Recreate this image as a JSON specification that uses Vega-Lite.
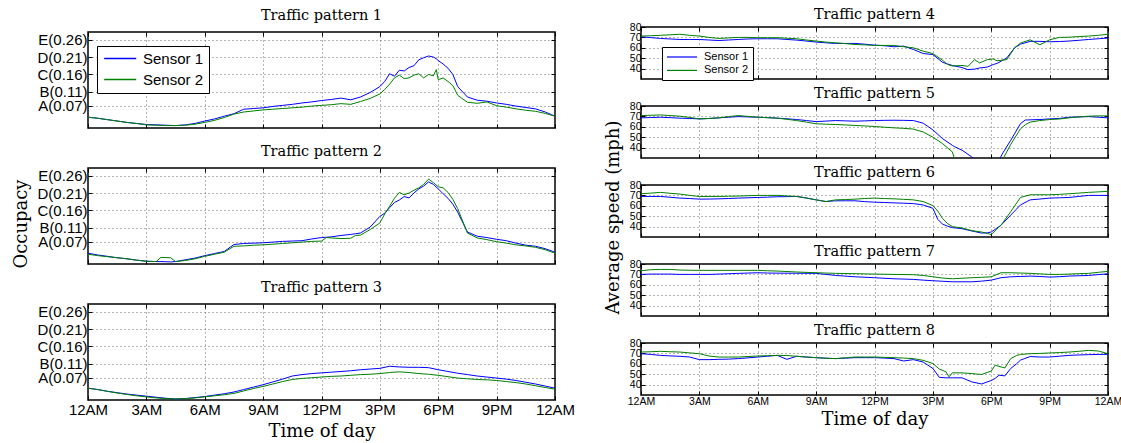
{
"$schema": "https://vega.github.io/schema/vega-lite/v6.json",
"background": "white",
"padding": {"left": 13, "top": 5, "right": 0, "bottom": 0},
"config": {
 "view": {"stroke": "black", "strokeWidth": 1.5},
 "axis": {"grid": true, "gridColor": "#444", "gridDash": [1, 3], "gridWidth": 0.8, "domain": false, "tickColor": "black", "tickSize": -4, "tickWidth": 1, "labelColor": "black", "labelFont": "Liberation Sans", "labelOverlap": false, "labelFlush": false, "titleFont": "DejaVu Serif", "titleFontWeight": "normal", "titleColor": "black"},
 "title": {"font": "DejaVu Serif", "fontSize": 14.5, "fontWeight": "normal", "color": "black"},
 "legend": {"title": null, "strokeColor": "black", "fillColor": "white", "symbolType": "M-1,0H5", "labelFont": "Liberation Sans", "labelColor": "black", "direction": "vertical", "orient": "none"}
},
"datasets": {
 "occ": [
  {"p":1,"t":0,"a":0.037,"b":0.037},{"p":1,"t":0.5,"a":0.034,"b":0.034},{"p":1,"t":1,"a":0.030,"b":0.030},{"p":1,"t":1.5,"a":0.026,"b":0.026},{"p":1,"t":2,"a":0.022,"b":0.022},{"p":1,"t":2.5,"a":0.019,"b":0.019},{"p":1,"t":3,"a":0.016,"b":0.015},{"p":1,"t":3.5,"a":0.015,"b":0.014},{"p":1,"t":4,"a":0.014,"b":0.013},{"p":1,"t":4.5,"a":0.013,"b":0.013},{"p":1,"t":5,"a":0.015,"b":0.014},{"p":1,"t":5.5,"a":0.019,"b":0.017},{"p":1,"t":6,"a":0.026,"b":0.022},{"p":1,"t":6.5,"a":0.032,"b":0.028},{"p":1,"t":7,"a":0.040,"b":0.036},{"p":1,"t":7.5,"a":0.047,"b":0.046},{"p":1,"t":8,"a":0.060,"b":0.052},{"p":1,"t":8.5,"a":0.062,"b":0.055},{"p":1,"t":9,"a":0.064,"b":0.058},{"p":1,"t":9.5,"a":0.068,"b":0.060},{"p":1,"t":10,"a":0.071,"b":0.062},{"p":1,"t":10.5,"a":0.074,"b":0.064},{"p":1,"t":11,"a":0.078,"b":0.066},{"p":1,"t":11.5,"a":0.081,"b":0.069},{"p":1,"t":12,"a":0.085,"b":0.071},{"p":1,"t":12.5,"a":0.088,"b":0.073},{"p":1,"t":13,"a":0.092,"b":0.076},{"p":1,"t":13.5,"a":0.087,"b":0.074},{"p":1,"t":14,"a":0.095,"b":0.082},{"p":1,"t":14.5,"a":0.108,"b":0.091},{"p":1,"t":15,"a":0.125,"b":0.104},{"p":1,"t":15.25,"a":0.140,"b":0.117},{"p":1,"t":15.5,"a":0.162,"b":0.132},{"p":1,"t":15.75,"a":0.155,"b":0.150},{"p":1,"t":16,"a":0.172,"b":0.158},{"p":1,"t":16.25,"a":0.170,"b":0.148},{"p":1,"t":16.5,"a":0.180,"b":0.150},{"p":1,"t":16.75,"a":0.185,"b":0.158},{"p":1,"t":17,"a":0.202,"b":0.162},{"p":1,"t":17.25,"a":0.208,"b":0.150},{"p":1,"t":17.5,"a":0.213,"b":0.160},{"p":1,"t":17.75,"a":0.210,"b":0.156},{"p":1,"t":17.9,"a":0.205,"b":0.174},{"p":1,"t":18,"a":0.200,"b":0.145},{"p":1,"t":18.25,"a":0.190,"b":0.150},{"p":1,"t":18.5,"a":0.178,"b":0.140},{"p":1,"t":18.75,"a":0.160,"b":0.128},{"p":1,"t":19,"a":0.125,"b":0.100},{"p":1,"t":19.5,"a":0.095,"b":0.080},{"p":1,"t":20,"a":0.086,"b":0.077},{"p":1,"t":20.5,"a":0.083,"b":0.081},{"p":1,"t":21,"a":0.078,"b":0.070},{"p":1,"t":21.5,"a":0.074,"b":0.066},{"p":1,"t":22,"a":0.069,"b":0.061},{"p":1,"t":22.5,"a":0.065,"b":0.057},{"p":1,"t":23,"a":0.061,"b":0.054},{"p":1,"t":23.5,"a":0.052,"b":0.048},{"p":1,"t":24,"a":0.040,"b":0.040},
  {"p":2,"t":0,"a":0.037,"b":0.034},{"p":2,"t":0.5,"a":0.032,"b":0.030},{"p":2,"t":1,"a":0.028,"b":0.027},{"p":2,"t":1.5,"a":0.024,"b":0.024},{"p":2,"t":2,"a":0.021,"b":0.021},{"p":2,"t":2.5,"a":0.017,"b":0.017},{"p":2,"t":3,"a":0.014,"b":0.014},{"p":2,"t":3.5,"a":0.013,"b":0.013},{"p":2,"t":3.75,"a":0.013,"b":0.025},{"p":2,"t":4.25,"a":0.012,"b":0.024},{"p":2,"t":4.5,"a":0.013,"b":0.013},{"p":2,"t":5,"a":0.018,"b":0.016},{"p":2,"t":5.5,"a":0.023,"b":0.021},{"p":2,"t":6,"a":0.030,"b":0.028},{"p":2,"t":6.5,"a":0.036,"b":0.034},{"p":2,"t":7,"a":0.042,"b":0.040},{"p":2,"t":7.5,"a":0.062,"b":0.057},{"p":2,"t":8,"a":0.065,"b":0.058},{"p":2,"t":8.5,"a":0.066,"b":0.060},{"p":2,"t":9,"a":0.067,"b":0.061},{"p":2,"t":9.5,"a":0.069,"b":0.063},{"p":2,"t":10,"a":0.071,"b":0.065},{"p":2,"t":10.5,"a":0.072,"b":0.067},{"p":2,"t":11,"a":0.073,"b":0.069},{"p":2,"t":11.5,"a":0.078,"b":0.071},{"p":2,"t":12,"a":0.082,"b":0.072},{"p":2,"t":12.25,"a":0.083,"b":0.082},{"p":2,"t":12.5,"a":0.084,"b":0.081},{"p":2,"t":13,"a":0.088,"b":0.079},{"p":2,"t":13.5,"a":0.091,"b":0.080},{"p":2,"t":13.75,"a":0.093,"b":0.088},{"p":2,"t":14,"a":0.095,"b":0.089},{"p":2,"t":14.5,"a":0.112,"b":0.105},{"p":2,"t":15,"a":0.143,"b":0.124},{"p":2,"t":15.25,"a":0.152,"b":0.150},{"p":2,"t":15.5,"a":0.168,"b":0.172},{"p":2,"t":15.75,"a":0.183,"b":0.195},{"p":2,"t":16,"a":0.190,"b":0.212},{"p":2,"t":16.25,"a":0.200,"b":0.205},{"p":2,"t":16.5,"a":0.196,"b":0.210},{"p":2,"t":16.75,"a":0.210,"b":0.218},{"p":2,"t":17,"a":0.222,"b":0.225},{"p":2,"t":17.25,"a":0.230,"b":0.235},{"p":2,"t":17.5,"a":0.242,"b":0.250},{"p":2,"t":17.75,"a":0.235,"b":0.240},{"p":2,"t":18,"a":0.222,"b":0.228},{"p":2,"t":18.25,"a":0.208,"b":0.225},{"p":2,"t":18.5,"a":0.195,"b":0.212},{"p":2,"t":18.75,"a":0.178,"b":0.192},{"p":2,"t":19,"a":0.155,"b":0.165},{"p":2,"t":19.5,"a":0.098,"b":0.095},{"p":2,"t":20,"a":0.086,"b":0.081},{"p":2,"t":20.5,"a":0.082,"b":0.076},{"p":2,"t":21,"a":0.077,"b":0.070},{"p":2,"t":21.5,"a":0.073,"b":0.066},{"p":2,"t":22,"a":0.066,"b":0.061},{"p":2,"t":22.5,"a":0.060,"b":0.058},{"p":2,"t":23,"a":0.057,"b":0.054},{"p":2,"t":23.5,"a":0.050,"b":0.047},{"p":2,"t":24,"a":0.040,"b":0.037},
  {"p":3,"t":0,"a":0.040,"b":0.040},{"p":3,"t":0.5,"a":0.036,"b":0.036},{"p":3,"t":1,"a":0.031,"b":0.031},{"p":3,"t":1.5,"a":0.027,"b":0.026},{"p":3,"t":2,"a":0.023,"b":0.022},{"p":3,"t":2.5,"a":0.020,"b":0.018},{"p":3,"t":3,"a":0.017,"b":0.015},{"p":3,"t":3.5,"a":0.014,"b":0.012},{"p":3,"t":4,"a":0.011,"b":0.010},{"p":3,"t":4.5,"a":0.009,"b":0.009},{"p":3,"t":5,"a":0.010,"b":0.010},{"p":3,"t":5.5,"a":0.013,"b":0.012},{"p":3,"t":6,"a":0.016,"b":0.015},{"p":3,"t":6.5,"a":0.020,"b":0.018},{"p":3,"t":7,"a":0.024,"b":0.021},{"p":3,"t":7.5,"a":0.029,"b":0.025},{"p":3,"t":8,"a":0.036,"b":0.032},{"p":3,"t":8.5,"a":0.043,"b":0.039},{"p":3,"t":9,"a":0.050,"b":0.045},{"p":3,"t":9.5,"a":0.058,"b":0.052},{"p":3,"t":10,"a":0.066,"b":0.059},{"p":3,"t":10.5,"a":0.075,"b":0.065},{"p":3,"t":11,"a":0.079,"b":0.068},{"p":3,"t":11.5,"a":0.082,"b":0.070},{"p":3,"t":12,"a":0.084,"b":0.072},{"p":3,"t":12.5,"a":0.086,"b":0.074},{"p":3,"t":13,"a":0.088,"b":0.075},{"p":3,"t":13.5,"a":0.090,"b":0.077},{"p":3,"t":14,"a":0.093,"b":0.079},{"p":3,"t":14.5,"a":0.095,"b":0.080},{"p":3,"t":15,"a":0.097,"b":0.082},{"p":3,"t":15.5,"a":0.103,"b":0.085},{"p":3,"t":16,"a":0.101,"b":0.087},{"p":3,"t":16.5,"a":0.100,"b":0.085},{"p":3,"t":17,"a":0.100,"b":0.082},{"p":3,"t":17.5,"a":0.099,"b":0.080},{"p":3,"t":18,"a":0.093,"b":0.077},{"p":3,"t":18.5,"a":0.088,"b":0.073},{"p":3,"t":19,"a":0.083,"b":0.069},{"p":3,"t":19.5,"a":0.079,"b":0.067},{"p":3,"t":20,"a":0.075,"b":0.065},{"p":3,"t":20.5,"a":0.072,"b":0.064},{"p":3,"t":21,"a":0.069,"b":0.062},{"p":3,"t":21.5,"a":0.066,"b":0.059},{"p":3,"t":22,"a":0.062,"b":0.056},{"p":3,"t":22.5,"a":0.057,"b":0.052},{"p":3,"t":23,"a":0.052,"b":0.047},{"p":3,"t":23.5,"a":0.046,"b":0.042},{"p":3,"t":24,"a":0.040,"b":0.037}
 ],
 "spd": [
  {"p":4,"t":0,"a":70.6,"b":71.3},{"p":4,"t":0.5,"a":69.8,"b":71.6},{"p":4,"t":1,"a":69,"b":72},{"p":4,"t":1.5,"a":68.5,"b":72.5},{"p":4,"t":2,"a":68,"b":73},{"p":4,"t":2.5,"a":68,"b":72},{"p":4,"t":3,"a":68,"b":71.3},{"p":4,"t":3.5,"a":67.5,"b":70},{"p":4,"t":4,"a":67,"b":69},{"p":4,"t":4.5,"a":67.5,"b":69.5},{"p":4,"t":5,"a":68,"b":70},{"p":4,"t":5.5,"a":68.5,"b":70},{"p":4,"t":6,"a":68.7,"b":69.7},{"p":4,"t":6.5,"a":68.7,"b":69.7},{"p":4,"t":7,"a":68.7,"b":69.7},{"p":4,"t":7.5,"a":68,"b":69.2},{"p":4,"t":8,"a":67.4,"b":68.7},{"p":4,"t":8.5,"a":66.5,"b":67.5},{"p":4,"t":9,"a":65.5,"b":66.5},{"p":4,"t":9.5,"a":64.8,"b":65.5},{"p":4,"t":10,"a":64.2,"b":64.8},{"p":4,"t":10.5,"a":64.2,"b":64},{"p":4,"t":11,"a":64.2,"b":63.2},{"p":4,"t":11.5,"a":63.5,"b":62.8},{"p":4,"t":12,"a":62.6,"b":62.3},{"p":4,"t":12.5,"a":62,"b":62.3},{"p":4,"t":13,"a":61,"b":62.3},{"p":4,"t":13.5,"a":61.6,"b":61},{"p":4,"t":14,"a":58.4,"b":60},{"p":4,"t":14.5,"a":54.5,"b":56.8},{"p":4,"t":15,"a":53.5,"b":54.5},{"p":4,"t":15.5,"a":46,"b":48},{"p":4,"t":15.75,"a":44.5,"b":44},{"p":4,"t":16,"a":43,"b":42.5},{"p":4,"t":16.5,"a":41,"b":43},{"p":4,"t":16.8,"a":39,"b":42.2},{"p":4,"t":17.15,"a":39.5,"b":48.6},{"p":4,"t":17.4,"a":40.6,"b":45.4},{"p":4,"t":17.8,"a":41.5,"b":48.6},{"p":4,"t":18.1,"a":43.9,"b":49.3},{"p":4,"t":18.3,"a":45,"b":47.5},{"p":4,"t":18.8,"a":50.3,"b":48.6},{"p":4,"t":19.2,"a":60,"b":60},{"p":4,"t":19.5,"a":63.5,"b":64.5},{"p":4,"t":20,"a":66.2,"b":67.7},{"p":4,"t":20.5,"a":66.2,"b":62.9},{"p":4,"t":21,"a":65.8,"b":67.7},{"p":4,"t":21.5,"a":66,"b":70},{"p":4,"t":22,"a":66.5,"b":70.2},{"p":4,"t":22.5,"a":67.2,"b":70.8},{"p":4,"t":23,"a":68,"b":71.3},{"p":4,"t":23.5,"a":68.7,"b":72},{"p":4,"t":24,"a":69.4,"b":73},
  {"p":5,"t":0,"a":68.6,"b":70.8},{"p":5,"t":0.5,"a":68.9,"b":71.1},{"p":5,"t":1,"a":69.2,"b":71.4},{"p":5,"t":1.5,"a":68.8,"b":70.8},{"p":5,"t":2,"a":68.3,"b":70.2},{"p":5,"t":2.5,"a":68,"b":69},{"p":5,"t":3,"a":67.6,"b":67.6},{"p":5,"t":3.5,"a":68,"b":68},{"p":5,"t":4,"a":68.6,"b":68.6},{"p":5,"t":4.5,"a":69.2,"b":69.8},{"p":5,"t":5,"a":69.8,"b":70.8},{"p":5,"t":5.5,"a":69.5,"b":70},{"p":5,"t":6,"a":69.2,"b":69.2},{"p":5,"t":6.5,"a":68.8,"b":68.8},{"p":5,"t":7,"a":68.3,"b":68.3},{"p":5,"t":7.5,"a":67.7,"b":67.2},{"p":5,"t":8,"a":67,"b":66},{"p":5,"t":8.5,"a":66,"b":64.5},{"p":5,"t":9,"a":65,"b":62.9},{"p":5,"t":9.5,"a":65.5,"b":62.5},{"p":5,"t":10,"a":66,"b":62.2},{"p":5,"t":10.5,"a":65.7,"b":61.8},{"p":5,"t":11,"a":65.4,"b":61.3},{"p":5,"t":11.5,"a":65.7,"b":60.8},{"p":5,"t":12,"a":66,"b":60.3},{"p":5,"t":12.5,"a":66.2,"b":59.6},{"p":5,"t":13,"a":66.3,"b":59},{"p":5,"t":13.5,"a":66.2,"b":58.5},{"p":5,"t":14,"a":66,"b":57.8},{"p":5,"t":14.5,"a":63.5,"b":55},{"p":5,"t":15,"a":57,"b":50},{"p":5,"t":15.5,"a":48.6,"b":43.8},{"p":5,"t":16,"a":42.2,"b":35.9},{"p":5,"t":16.1,"a":41,"b":30},{"p":5,"t":16.5,"a":37.5,"b":26},{"p":5,"t":17,"a":31,"b":24},{"p":5,"t":17.2,"a":28,"b":23},{"p":5,"t":17.5,"a":25,"b":22},{"p":5,"t":18,"a":22,"b":22},{"p":5,"t":18.4,"a":28,"b":24},{"p":5,"t":18.6,"a":35,"b":29},{"p":5,"t":19,"a":47,"b":43},{"p":5,"t":19.5,"a":63,"b":58},{"p":5,"t":19.75,"a":66.5,"b":62},{"p":5,"t":20,"a":66.7,"b":64.5},{"p":5,"t":20.5,"a":67,"b":66},{"p":5,"t":21,"a":67.6,"b":67},{"p":5,"t":21.5,"a":68,"b":67.5},{"p":5,"t":22,"a":69.2,"b":68.6},{"p":5,"t":22.5,"a":69.5,"b":69.5},{"p":5,"t":23,"a":69.8,"b":70.2},{"p":5,"t":23.5,"a":69.2,"b":70.5},{"p":5,"t":24,"a":68.6,"b":70.5},
  {"p":6,"t":0,"a":69,"b":71.6},{"p":6,"t":0.5,"a":69,"b":72.2},{"p":6,"t":1,"a":69,"b":72.9},{"p":6,"t":1.5,"a":68.2,"b":72},{"p":6,"t":2,"a":67.4,"b":71.3},{"p":6,"t":2.5,"a":67,"b":70},{"p":6,"t":3,"a":66.4,"b":69},{"p":6,"t":3.5,"a":66.5,"b":69},{"p":6,"t":4,"a":66.7,"b":69},{"p":6,"t":4.5,"a":67,"b":69.2},{"p":6,"t":5,"a":67.4,"b":69.4},{"p":6,"t":5.5,"a":67.7,"b":69.7},{"p":6,"t":6,"a":68,"b":70},{"p":6,"t":6.5,"a":68.3,"b":70},{"p":6,"t":7,"a":68.7,"b":70},{"p":6,"t":7.5,"a":68.8,"b":69.5},{"p":6,"t":8,"a":69,"b":69},{"p":6,"t":8.5,"a":67.5,"b":67.5},{"p":6,"t":9,"a":65.7,"b":65.7},{"p":6,"t":9.5,"a":64.1,"b":64.1},{"p":6,"t":10,"a":64.8,"b":65.7},{"p":6,"t":10.5,"a":64.8,"b":66},{"p":6,"t":11,"a":64.8,"b":66.4},{"p":6,"t":11.5,"a":64,"b":67},{"p":6,"t":12,"a":63.5,"b":67.4},{"p":6,"t":12.5,"a":63.2,"b":67},{"p":6,"t":13,"a":62.8,"b":66.7},{"p":6,"t":13.5,"a":62.5,"b":66.2},{"p":6,"t":14,"a":62.1,"b":65.7},{"p":6,"t":14.5,"a":60.8,"b":64.1},{"p":6,"t":15,"a":57.6,"b":60.2},{"p":6,"t":15.25,"a":47,"b":55},{"p":6,"t":15.5,"a":42.3,"b":47.8},{"p":6,"t":15.75,"a":40.5,"b":43},{"p":6,"t":16,"a":39,"b":40},{"p":6,"t":16.5,"a":38,"b":38.7},{"p":6,"t":17,"a":35.8,"b":36.1},{"p":6,"t":17.5,"a":33.8,"b":34.8},{"p":6,"t":17.8,"a":34,"b":33.5},{"p":6,"t":18,"a":34.8,"b":32.2},{"p":6,"t":18.25,"a":38,"b":37},{"p":6,"t":18.5,"a":41.3,"b":41.3},{"p":6,"t":19,"a":51,"b":54.3},{"p":6,"t":19.5,"a":60.8,"b":68},{"p":6,"t":20,"a":65.7,"b":70.6},{"p":6,"t":20.5,"a":66.5,"b":70.6},{"p":6,"t":21,"a":67.4,"b":70.6},{"p":6,"t":21.5,"a":67.7,"b":71},{"p":6,"t":22,"a":68,"b":71.6},{"p":6,"t":22.5,"a":69,"b":72.2},{"p":6,"t":23,"a":70,"b":72.9},{"p":6,"t":23.5,"a":70,"b":73.4},{"p":6,"t":24,"a":70,"b":73.9},
  {"p":7,"t":0,"a":70,"b":73.5},{"p":7,"t":0.5,"a":70.3,"b":74.5},{"p":7,"t":1,"a":70.3,"b":74.8},{"p":7,"t":1.5,"a":70.3,"b":74.8},{"p":7,"t":2,"a":70,"b":74.2},{"p":7,"t":2.5,"a":70,"b":74},{"p":7,"t":3,"a":70,"b":73.9},{"p":7,"t":3.5,"a":70,"b":73.9},{"p":7,"t":4,"a":70.3,"b":73.9},{"p":7,"t":5,"a":71,"b":73.9},{"p":7,"t":6,"a":71.6,"b":73.9},{"p":7,"t":6.5,"a":71.3,"b":73.5},{"p":7,"t":7,"a":71.2,"b":73.2},{"p":7,"t":8,"a":71.1,"b":72.3},{"p":7,"t":9,"a":71,"b":71.6},{"p":7,"t":9.5,"a":70,"b":71.3},{"p":7,"t":10,"a":69,"b":71},{"p":7,"t":11,"a":67.7,"b":70.7},{"p":7,"t":12,"a":66.8,"b":70.3},{"p":7,"t":13,"a":65.8,"b":70},{"p":7,"t":14,"a":65.2,"b":69.7},{"p":7,"t":14.5,"a":64.5,"b":69},{"p":7,"t":15,"a":63.9,"b":67.7},{"p":7,"t":15.5,"a":63.4,"b":66.5},{"p":7,"t":16,"a":62.9,"b":65.8},{"p":7,"t":16.5,"a":62.9,"b":66.3},{"p":7,"t":17,"a":62.9,"b":66.8},{"p":7,"t":17.5,"a":63.5,"b":67.2},{"p":7,"t":18,"a":64.5,"b":67.7},{"p":7,"t":18.5,"a":66.8,"b":71.6},{"p":7,"t":19,"a":67.7,"b":71.6},{"p":7,"t":19.5,"a":68,"b":71.3},{"p":7,"t":20,"a":68.4,"b":71},{"p":7,"t":20.5,"a":68,"b":70.5},{"p":7,"t":21,"a":67.4,"b":70},{"p":7,"t":21.5,"a":67.8,"b":70},{"p":7,"t":22,"a":68.4,"b":70.3},{"p":7,"t":22.5,"a":68.7,"b":70.7},{"p":7,"t":23,"a":69,"b":71},{"p":7,"t":23.5,"a":69.8,"b":72},{"p":7,"t":24,"a":70.6,"b":72.9},
  {"p":8,"t":0,"a":69.7,"b":71.3},{"p":8,"t":0.5,"a":69,"b":71.6},{"p":8,"t":1,"a":68.1,"b":72},{"p":8,"t":1.5,"a":67.6,"b":71.6},{"p":8,"t":2,"a":67.2,"b":71.3},{"p":8,"t":2.5,"a":66.5,"b":70.5},{"p":8,"t":3,"a":64,"b":69.7},{"p":8,"t":3.5,"a":64,"b":67.5},{"p":8,"t":4,"a":64.3,"b":66.5},{"p":8,"t":4.5,"a":64.5,"b":66.5},{"p":8,"t":5,"a":65,"b":66.5},{"p":8,"t":5.5,"a":65.7,"b":67},{"p":8,"t":6,"a":66.5,"b":67.5},{"p":8,"t":6.5,"a":67.3,"b":67.8},{"p":8,"t":7,"a":68.1,"b":68.1},{"p":8,"t":7.5,"a":64.3,"b":68},{"p":8,"t":8,"a":67.2,"b":67.2},{"p":8,"t":8.5,"a":66.5,"b":66.5},{"p":8,"t":9,"a":65.9,"b":65.9},{"p":8,"t":9.5,"a":65.4,"b":65.3},{"p":8,"t":10,"a":65,"b":65},{"p":8,"t":10.5,"a":65.4,"b":65.8},{"p":8,"t":11,"a":65.9,"b":66.5},{"p":8,"t":11.5,"a":65.9,"b":66.5},{"p":8,"t":12,"a":65.9,"b":66.5},{"p":8,"t":12.5,"a":65.5,"b":66.2},{"p":8,"t":13,"a":65,"b":65.9},{"p":8,"t":13.5,"a":62.7,"b":65.5},{"p":8,"t":14,"a":64,"b":65},{"p":8,"t":14.5,"a":61.7,"b":63.3},{"p":8,"t":15,"a":55.5,"b":60.3},{"p":8,"t":15.33,"a":47,"b":55},{"p":8,"t":15.67,"a":46.5,"b":52.3},{"p":8,"t":15.83,"a":46.5,"b":47.5},{"p":8,"t":16,"a":46.5,"b":51.3},{"p":8,"t":16.5,"a":46.5,"b":51.3},{"p":8,"t":17,"a":42.6,"b":50.6},{"p":8,"t":17.5,"a":40.6,"b":49.7},{"p":8,"t":18,"a":43.9,"b":53},{"p":8,"t":18.2,"a":46,"b":58.7},{"p":8,"t":18.4,"a":49,"b":57.5},{"p":8,"t":18.7,"a":48.4,"b":56},{"p":8,"t":19,"a":55.5,"b":65},{"p":8,"t":19.3,"a":60,"b":68},{"p":8,"t":19.5,"a":63.5,"b":69},{"p":8,"t":20,"a":67,"b":69.7},{"p":8,"t":20.5,"a":66.5,"b":70},{"p":8,"t":21,"a":66.5,"b":70.4},{"p":8,"t":21.5,"a":67.3,"b":70.8},{"p":8,"t":22,"a":68.1,"b":71.3},{"p":8,"t":22.5,"a":68.5,"b":72},{"p":8,"t":23,"a":68.8,"b":72.9},{"p":8,"t":23.5,"a":69,"b":72.3},{"p":8,"t":24,"a":69.1,"b":69.7}
 ]
},
"spacing": 28,
"resolve": {"scale": {"color": "independent"}, "legend": {"color": "independent"}},
"hconcat": [
 {"title": {"text": "Occupacy", "orient": "left", "anchor": "middle", "fontSize": 18, "offset": 5},
  "bounds": "flush", "spacing": 0,
  "resolve": {"scale": {"color": "independent"}, "legend": {"color": "independent"}},
  "vconcat": [
  {"width": 467, "height": 5, "data": {"values": []}, "mark": {"type": "point", "opacity": 0}, "view": {"stroke": null}},
  {"bounds": "flush", "spacing": 40,
   "resolve": {"scale": {"color": "independent"}, "legend": {"color": "independent"}},
   "vconcat": [
  {"width": 467, "height": 96, "title": {"text": "Traffic pattern 1", "offset": 8},
   "data": {"name": "occ"},
   "transform": [{"filter": "datum.p == 1"}, {"fold": ["a", "b"], "as": ["sensor", "value"]}],
   "resolve": {"axis": {"x": "independent", "y": "independent"}},
   "layer": [
    {"mark": {"type": "line", "strokeWidth": 1, "clip": true},
     "encoding": {
      "x": {"field": "t", "type": "quantitative", "scale": {"domain": [0, 24], "nice": false, "zero": false}, "axis": {"values": [0,3,6,9,12,15,18,21,24], "labels": false, "title": null}},
      "y": {"field": "value", "type": "quantitative", "scale": {"domain": [0.006, 0.282], "nice": false, "zero": false}, "axis": {"values": [0.07,0.11,0.16,0.21,0.26], "labelExpr": "datum.value < 0.09 ? 'A(0.07)' : datum.value < 0.135 ? 'B(0.11)' : datum.value < 0.185 ? 'C(0.16)' : datum.value < 0.235 ? 'D(0.21)' : 'E(0.26)'", "labelFontSize": 15, "labelPadding": 5, "title": null}},
      "color": {"field": "sensor", "type": "nominal", "scale": {"domain": ["a", "b"], "range": ["#0000ff", "#008000"]}, "legend": {"legendX": 9, "legendY": 14, "padding": 5, "rowPadding": 5, "symbolSize": 114, "symbolStrokeWidth": 1.3, "labelFontSize": 15, "labelOffset": 26, "labelExpr": "datum.label == 'a' ? 'Sensor 1' : 'Sensor 2'"}}
     }},
    {"mark": {"type": "line", "opacity": 0},
     "encoding": {
      "x": {"field": "t", "type": "quantitative", "axis": {"orient": "top", "values": [0,3,6,9,12,15,18,21,24], "labels": false, "grid": false, "title": null}},
      "y": {"field": "value", "type": "quantitative", "axis": {"orient": "right", "values": [0.07,0.11,0.16,0.21,0.26], "labels": false, "grid": false, "title": null}}
     }}
   ]},
  {"width": 467, "height": 96, "title": {"text": "Traffic pattern 2", "offset": 8},
   "data": {"name": "occ"},
   "transform": [{"filter": "datum.p == 2"}, {"fold": ["a", "b"], "as": ["sensor", "value"]}],
   "resolve": {"axis": {"x": "independent", "y": "independent"}},
   "layer": [
    {"mark": {"type": "line", "strokeWidth": 1, "clip": true},
     "encoding": {
      "x": {"field": "t", "type": "quantitative", "scale": {"domain": [0, 24], "nice": false, "zero": false}, "axis": {"values": [0,3,6,9,12,15,18,21,24], "labels": false, "title": null}},
      "y": {"field": "value", "type": "quantitative", "scale": {"domain": [0.006, 0.282], "nice": false, "zero": false}, "axis": {"values": [0.07,0.11,0.16,0.21,0.26], "labelExpr": "datum.value < 0.09 ? 'A(0.07)' : datum.value < 0.135 ? 'B(0.11)' : datum.value < 0.185 ? 'C(0.16)' : datum.value < 0.235 ? 'D(0.21)' : 'E(0.26)'", "labelFontSize": 15, "labelPadding": 5, "title": null}},
      "color": {"field": "sensor", "type": "nominal", "scale": {"domain": ["a", "b"], "range": ["#0000ff", "#008000"]}, "legend": null}
     }},
    {"mark": {"type": "line", "opacity": 0},
     "encoding": {
      "x": {"field": "t", "type": "quantitative", "axis": {"orient": "top", "values": [0,3,6,9,12,15,18,21,24], "labels": false, "grid": false, "title": null}},
      "y": {"field": "value", "type": "quantitative", "axis": {"orient": "right", "values": [0.07,0.11,0.16,0.21,0.26], "labels": false, "grid": false, "title": null}}
     }}
   ]},
  {"width": 467, "height": 96, "title": {"text": "Traffic pattern 3", "offset": 8},
   "data": {"name": "occ"},
   "transform": [{"filter": "datum.p == 3"}, {"fold": ["a", "b"], "as": ["sensor", "value"]}],
   "resolve": {"axis": {"x": "independent", "y": "independent"}},
   "layer": [
    {"mark": {"type": "line", "strokeWidth": 1, "clip": true},
     "encoding": {
      "x": {"field": "t", "type": "quantitative", "scale": {"domain": [0, 24], "nice": false, "zero": false}, "axis": {"values": [0,3,6,9,12,15,18,21,24], "labelExpr": "['12AM','3AM','6AM','9AM','12PM','3PM','6PM','9PM','12AM'][round(datum.value/3)]", "labelFontSize": 15, "labelPadding": 6, "title": "Time of day", "titleFontSize": 18, "titlePadding": 5}},
      "y": {"field": "value", "type": "quantitative", "scale": {"domain": [0.006, 0.282], "nice": false, "zero": false}, "axis": {"values": [0.07,0.11,0.16,0.21,0.26], "labelExpr": "datum.value < 0.09 ? 'A(0.07)' : datum.value < 0.135 ? 'B(0.11)' : datum.value < 0.185 ? 'C(0.16)' : datum.value < 0.235 ? 'D(0.21)' : 'E(0.26)'", "labelFontSize": 15, "labelPadding": 5, "title": null}},
      "color": {"field": "sensor", "type": "nominal", "scale": {"domain": ["a", "b"], "range": ["#0000ff", "#008000"]}, "legend": null}
     }},
    {"mark": {"type": "line", "opacity": 0},
     "encoding": {
      "x": {"field": "t", "type": "quantitative", "axis": {"orient": "top", "values": [0,3,6,9,12,15,18,21,24], "labels": false, "grid": false, "title": null}},
      "y": {"field": "value", "type": "quantitative", "axis": {"orient": "right", "values": [0.07,0.11,0.16,0.21,0.26], "labels": false, "grid": false, "title": null}}
     }}
   ]}
  ]}
 ]},
 {"title": {"text": "Average speed (mph)", "orient": "left", "anchor": "middle", "fontSize": 18, "offset": 4},
  "bounds": "flush", "spacing": 27,
  "resolve": {"scale": {"color": "independent"}, "legend": {"color": "independent"}},
  "vconcat": [
  {"width": 467, "height": 52, "title": {"text": "Traffic pattern 4", "offset": 0},
   "data": {"name": "spd"},
   "transform": [{"filter": "datum.p == 4"}, {"fold": ["a", "b"], "as": ["sensor", "value"]}],
   "resolve": {"axis": {"x": "independent", "y": "independent"}},
   "layer": [
    {"mark": {"type": "line", "strokeWidth": 1, "clip": true},
     "encoding": {
      "x": {"field": "t", "type": "quantitative", "scale": {"domain": [0, 24], "nice": false, "zero": false}, "axis": {"values": [0,3,6,9,12,15,18,21,24], "labels": false, "title": null}},
      "y": {"field": "value", "type": "quantitative", "scale": {"domain": [30, 80], "nice": false, "zero": false}, "axis": {"values": [40,50,60,70,80], "labelFontSize": 10.5, "labelPadding": 4, "title": null}},
      "color": {"field": "sensor", "type": "nominal", "scale": {"domain": ["a", "b"], "range": ["#0000ff", "#008000"]}, "legend": {"legendX": 21, "legendY": 20, "padding": 4, "rowPadding": 2.4, "symbolSize": 100, "symbolStrokeWidth": 1.2, "labelFontSize": 11, "labelOffset": 26, "labelExpr": "datum.label == 'a' ? 'Sensor 1' : 'Sensor 2'"}}
     }},
    {"mark": {"type": "line", "opacity": 0},
     "encoding": {
      "x": {"field": "t", "type": "quantitative", "axis": {"orient": "top", "values": [0,3,6,9,12,15,18,21,24], "labels": false, "grid": false, "title": null}},
      "y": {"field": "value", "type": "quantitative", "axis": {"orient": "right", "values": [40,50,60,70,80], "labels": false, "grid": false, "title": null}}
     }}
   ]},
  {"width": 467, "height": 52, "title": {"text": "Traffic pattern 5", "offset": 0},
   "data": {"name": "spd"},
   "transform": [{"filter": "datum.p == 5"}, {"fold": ["a", "b"], "as": ["sensor", "value"]}],
   "resolve": {"axis": {"x": "independent", "y": "independent"}},
   "layer": [
    {"mark": {"type": "line", "strokeWidth": 1, "clip": true},
     "encoding": {
      "x": {"field": "t", "type": "quantitative", "scale": {"domain": [0, 24], "nice": false, "zero": false}, "axis": {"values": [0,3,6,9,12,15,18,21,24], "labels": false, "title": null}},
      "y": {"field": "value", "type": "quantitative", "scale": {"domain": [30, 80], "nice": false, "zero": false}, "axis": {"values": [40,50,60,70,80], "labelFontSize": 10.5, "labelPadding": 4, "title": null}},
      "color": {"field": "sensor", "type": "nominal", "scale": {"domain": ["a", "b"], "range": ["#0000ff", "#008000"]}, "legend": null}
     }},
    {"mark": {"type": "line", "opacity": 0, "clip": true},
     "encoding": {
      "x": {"field": "t", "type": "quantitative", "axis": {"orient": "top", "values": [0,3,6,9,12,15,18,21,24], "labels": false, "grid": false, "title": null}},
      "y": {"field": "value", "type": "quantitative", "axis": {"orient": "right", "values": [40,50,60,70,80], "labels": false, "grid": false, "title": null}}
     }}
   ]},
  {"width": 467, "height": 52, "title": {"text": "Traffic pattern 6", "offset": 0},
   "data": {"name": "spd"},
   "transform": [{"filter": "datum.p == 6"}, {"fold": ["a", "b"], "as": ["sensor", "value"]}],
   "resolve": {"axis": {"x": "independent", "y": "independent"}},
   "layer": [
    {"mark": {"type": "line", "strokeWidth": 1, "clip": true},
     "encoding": {
      "x": {"field": "t", "type": "quantitative", "scale": {"domain": [0, 24], "nice": false, "zero": false}, "axis": {"values": [0,3,6,9,12,15,18,21,24], "labels": false, "title": null}},
      "y": {"field": "value", "type": "quantitative", "scale": {"domain": [30, 80], "nice": false, "zero": false}, "axis": {"values": [40,50,60,70,80], "labelFontSize": 10.5, "labelPadding": 4, "title": null}},
      "color": {"field": "sensor", "type": "nominal", "scale": {"domain": ["a", "b"], "range": ["#0000ff", "#008000"]}, "legend": null}
     }},
    {"mark": {"type": "line", "opacity": 0},
     "encoding": {
      "x": {"field": "t", "type": "quantitative", "axis": {"orient": "top", "values": [0,3,6,9,12,15,18,21,24], "labels": false, "grid": false, "title": null}},
      "y": {"field": "value", "type": "quantitative", "axis": {"orient": "right", "values": [40,50,60,70,80], "labels": false, "grid": false, "title": null}}
     }}
   ]},
  {"width": 467, "height": 52, "title": {"text": "Traffic pattern 7", "offset": 0},
   "data": {"name": "spd"},
   "transform": [{"filter": "datum.p == 7"}, {"fold": ["a", "b"], "as": ["sensor", "value"]}],
   "resolve": {"axis": {"x": "independent", "y": "independent"}},
   "layer": [
    {"mark": {"type": "line", "strokeWidth": 1, "clip": true},
     "encoding": {
      "x": {"field": "t", "type": "quantitative", "scale": {"domain": [0, 24], "nice": false, "zero": false}, "axis": {"values": [0,3,6,9,12,15,18,21,24], "labels": false, "title": null}},
      "y": {"field": "value", "type": "quantitative", "scale": {"domain": [30, 80], "nice": false, "zero": false}, "axis": {"values": [40,50,60,70,80], "labelFontSize": 10.5, "labelPadding": 4, "title": null}},
      "color": {"field": "sensor", "type": "nominal", "scale": {"domain": ["a", "b"], "range": ["#0000ff", "#008000"]}, "legend": null}
     }},
    {"mark": {"type": "line", "opacity": 0},
     "encoding": {
      "x": {"field": "t", "type": "quantitative", "axis": {"orient": "top", "values": [0,3,6,9,12,15,18,21,24], "labels": false, "grid": false, "title": null}},
      "y": {"field": "value", "type": "quantitative", "axis": {"orient": "right", "values": [40,50,60,70,80], "labels": false, "grid": false, "title": null}}
     }}
   ]},
  {"width": 467, "height": 52, "title": {"text": "Traffic pattern 8", "offset": 0},
   "data": {"name": "spd"},
   "transform": [{"filter": "datum.p == 8"}, {"fold": ["a", "b"], "as": ["sensor", "value"]}],
   "resolve": {"axis": {"x": "independent", "y": "independent"}},
   "layer": [
    {"mark": {"type": "line", "strokeWidth": 1, "clip": true},
     "encoding": {
      "x": {"field": "t", "type": "quantitative", "scale": {"domain": [0, 24], "nice": false, "zero": false}, "axis": {"values": [0,3,6,9,12,15,18,21,24], "labelExpr": "['12AM','3AM','6AM','9AM','12PM','3PM','6PM','9PM','12AM'][round(datum.value/3)]", "labelFontSize": 10.5, "labelPadding": 5, "title": "Time of day", "titleFontSize": 18, "titlePadding": 4}},
      "y": {"field": "value", "type": "quantitative", "scale": {"domain": [30, 80], "nice": false, "zero": false}, "axis": {"values": [40,50,60,70,80], "labelFontSize": 10.5, "labelPadding": 4, "title": null}},
      "color": {"field": "sensor", "type": "nominal", "scale": {"domain": ["a", "b"], "range": ["#0000ff", "#008000"]}, "legend": null}
     }},
    {"mark": {"type": "line", "opacity": 0},
     "encoding": {
      "x": {"field": "t", "type": "quantitative", "axis": {"orient": "top", "values": [0,3,6,9,12,15,18,21,24], "labels": false, "grid": false, "title": null}},
      "y": {"field": "value", "type": "quantitative", "axis": {"orient": "right", "values": [40,50,60,70,80], "labels": false, "grid": false, "title": null}}
     }}
   ]}
 ]}
]
}
